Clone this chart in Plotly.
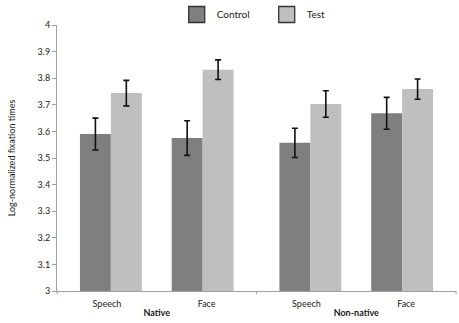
import plotly.graph_objects as go

groups = ["<b>Native</b>", "<b>Native</b>", "<b>Non-native</b>", "<b>Non-native</b>"]
conditions = ["Speech", "Face", "Speech", "Face"]
control_vals = [3.59, 3.575, 3.557, 3.668]
control_err = [0.06, 0.065, 0.055, 0.06]
test_vals = [3.744, 3.832, 3.703, 3.759]
test_err = [0.048, 0.037, 0.05, 0.038]
series_names = ["Control", "Test"]
colors = ["#7f7f7f", "#bfbfbf"]
ytick_vals = [3, 3.1, 3.2, 3.3, 3.4, 3.5, 3.6, 3.7, 3.8, 3.9, 4]
ytick_text = ["3", "3.1", "3.2", "3.3", "3.4", "3.5", "3.6", "3.7", "3.8", "3.9", "4"]

FONT = "Lato, 'Open Sans', sans-serif"
TXT = "#1a1a1a"
AXIS = "#a0a0a0"

# style: bar width (category units) and inward pull of each pair toward its group centre
BAR_W = 0.31
PULL = 0.04
pull = [PULL if i % 2 == 0 else -PULL for i in range(len(conditions))]
offsets = [[p - BAR_W for p in pull], [p for p in pull]]

fig = go.Figure()
for k, (name, vals, errs, col) in enumerate(zip(series_names, [control_vals, test_vals],
                                                [control_err, test_err], colors)):
    fig.add_trace(go.Bar(
        x=[groups, conditions], y=vals, name=name,
        width=BAR_W, offset=offsets[k],
        marker=dict(color=col, line=dict(width=0)),
        error_y=dict(type="data", array=errs, color="#111111", thickness=1.6, width=3),
        showlegend=False,
    ))
    fig.add_trace(go.Scatter(
        x=[None], y=[None], name=name, mode="markers",
        xaxis="x2", yaxis="y2",
        marker=dict(symbol="square", size=20, color=col,
                    line=dict(color="#333333", width=1.3)),
        showlegend=True,
    ))

# small tick marks at the group boundaries
for xd in [0, 0.5, 1]:
    fig.add_shape(type="line", xref="x domain", yref="y domain",
                  x0=xd, x1=xd, y0=0, y1=-0.012,
                  line=dict(color=AXIS, width=1))

fig.update_layout(
    width=459, height=323,
    margin=dict(l=57, r=3, t=25, b=32, autoexpand=False),
    paper_bgcolor="white", plot_bgcolor="white",
    font=dict(family=FONT, size=9, color=TXT),
    barmode="group",
    showlegend=True,
    legend=dict(orientation="h", x=0.30, xanchor="left",
                yref="container", y=1.0, yanchor="top",
                font=dict(family=FONT, size=10, color=TXT),
                entrywidth=45, entrywidthmode="pixels",
                bgcolor="rgba(0,0,0,0)", itemsizing="trace"),
    xaxis=dict(
        type="multicategory", showline=True, linecolor=AXIS, linewidth=1,
        ticks="", showgrid=False, showdividers=False, automargin=False,
        ticklabelstandoff=4,
        tickfont=dict(family=FONT, size=9, color=TXT),
    ),
    yaxis=dict(
        range=[3, 4], tickvals=ytick_vals, ticktext=ytick_text,
        showline=True, linecolor=AXIS, linewidth=1,
        ticks="outside", ticklen=4, tickcolor=AXIS,
        showgrid=False, zeroline=False, automargin=False,
        tickfont=dict(family=FONT, size=9, color=TXT),
        title=dict(text="Log-normalized fixation times", standoff=20,
                   font=dict(family=FONT, size=9, color=TXT)),
    ),
    xaxis2=dict(visible=False, overlaying="x", range=[0, 1]),
    yaxis2=dict(visible=False, overlaying="y", range=[0, 1]),
)

fig.write_html("out.html", config={"displayModeBar": False},
               post_script="document.body.style.margin='0px';document.body.style.overflow='hidden';")
